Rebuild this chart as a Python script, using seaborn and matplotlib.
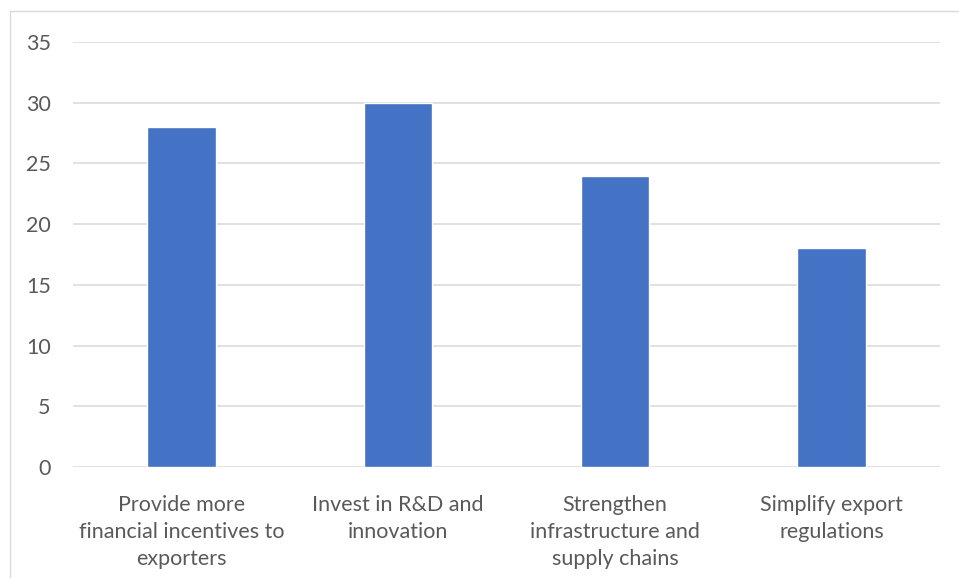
import matplotlib
matplotlib.use("Agg")
import matplotlib.pyplot as plt
from matplotlib.lines import Line2D
import seaborn as sns
import pandas as pd

categories = [
    "Provide more\nfinancial incentives to\nexporters",
    "Invest in R&D and\ninnovation",
    "Strengthen\ninfrastructure and\nsupply chains",
    "Simplify export\nregulations",
]
values = [28, 30, 24, 18]
y_ticks = [0, 5, 10, 15, 20, 25, 30, 35]

sns.set_theme(style="white")
plt.rcParams["font.family"] = ["Lato", "DejaVu Sans"]

df = pd.DataFrame({"category": categories, "value": values})

fig = plt.figure(figsize=(9.59, 5.78), dpi=100)
ax = fig.add_axes([73 / 959, 1 - 467 / 578, (940 - 73) / 959, (467 - 42) / 578])

sns.barplot(data=df, x="category", y="value", color="#4472C4", saturation=1,
            width=0.315, ax=ax, zorder=3)

ax.set_ylim(0, 35)
ax.set_yticks(y_ticks)
ax.set_xlim(-0.5, len(categories) - 0.5)
ax.set_xlabel("")
ax.set_ylabel("")
for s in ax.spines.values():
    s.set_visible(False)
ax.yaxis.grid(True, color="#d9d9d9", linewidth=1.1, zorder=0)
ax.set_axisbelow(True)
ax.tick_params(axis="y", length=0, pad=16, labelsize=15.5, labelcolor="#595959")
ax.tick_params(axis="x", length=0, pad=20, labelsize=15.5, labelcolor="#595959")
for t in ax.get_xticklabels():
    t.set_linespacing(1.44)

# chart frame on the left and top edges
fig.add_artist(Line2D([9.5 / 959, 9.5 / 959], [0, 1 - 11 / 578], color="#d9d9d9", lw=1.0))
fig.add_artist(Line2D([9.5 / 959, 1], [1 - 11 / 578, 1 - 11 / 578], color="#d9d9d9", lw=1.0))

fig.savefig("out.png", dpi=100, facecolor="white")
